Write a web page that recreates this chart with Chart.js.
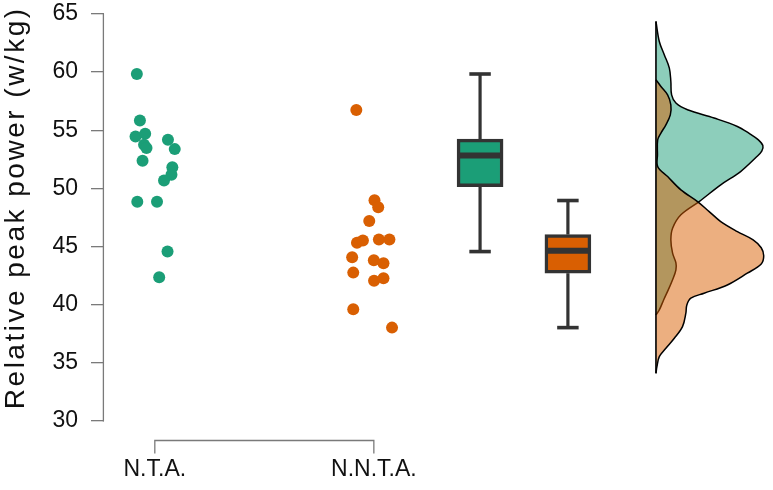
<!DOCTYPE html>
<html>
<head>
<meta charset="utf-8">
<script src="https://cdn.jsdelivr.net/npm/chart.js@4.4.1/dist/chart.umd.min.js"></script>
<style>
html,body{margin:0;padding:0;background:#ffffff;}
#wrap{width:773px;height:490px;position:relative;}
</style>
</head>
<body>
<div id="wrap"><canvas id="c" width="773" height="490"></canvas></div>
<script>
// ---------------- data ----------------
const categories = ['N.T.A.', 'N.N.T.A.'];
const yTicks = [30, 35, 40, 45, 50, 55, 60, 65];

const ntaValues  = [59.84, 55.84, 54.47, 54.70, 53.75, 53.47, 54.18, 53.38, 52.38, 51.83, 51.17, 50.68, 48.85, 48.85, 44.57, 42.37];
const ntaJitter  = [-0.082, -0.068, -0.088, -0.044, -0.049, -0.038, 0.060, 0.091, -0.056, 0.080, 0.076, 0.042, -0.080, 0.010, 0.058, 0.020];
const nntaValues = [56.74, 48.99, 48.39, 47.19, 45.32, 45.52, 45.60, 45.60, 44.09, 43.83, 43.57, 42.76, 42.07, 42.28, 39.61, 38.03];
const nntaJitter = [-0.080, 0.003, 0.020, -0.021, -0.077, -0.050, 0.023, 0.071, -0.099, 0.000, 0.044, -0.094, 0.001, 0.044, -0.094, 0.083];

// box statistics: [lower whisker, Q1, median, Q3, upper whisker]
const ntaBox  = [44.57, 50.16, 52.83, 54.24, 59.84];
const nntaBox = [38.03, 42.71, 44.65, 46.03, 48.96];

// half-violin density profiles (value, relative density)
const ntaDensityAt = [64.36, 62.64, 61.50, 60.35, 59.20, 58.05, 57.34, 56.76, 56.05, 55.33, 54.70, 54.20, 53.70, 53.20, 52.70, 51.45, 50.31, 48.87, 47.73, 46.58, 45.58, 44.43, 43.60, 43.00, 42.14, 41.28, 40.41, 39.55, 39.12];
const ntaDensity   = [0, 0.031, 0.077, 0.124, 0.138, 0.145, 0.185, 0.292, 0.539, 0.754, 0.870, 0.946, 0.990, 0.980, 0.930, 0.784, 0.600, 0.400, 0.231, 0.154, 0.138, 0.154, 0.185, 0.185, 0.154, 0.114, 0.071, 0.031, 0];
const nntaDensityAt = [59.35, 58.77, 58.05, 57.19, 56.33, 55.47, 54.76, 54.18, 52.89, 51.88, 51.02, 49.88, 48.87, 48.01, 47.15, 46.29, 45.58, 44.90, 44.20, 43.50, 42.71, 41.70, 40.99, 40.56, 39.98, 39.27, 38.12, 37.12, 36.26, 35.53, 34.67, 34.10];
const nntaDensity   = [0, 0.046, 0.108, 0.138, 0.133, 0.092, 0.046, 0.016, 0.014, 0.016, 0.108, 0.231, 0.385, 0.493, 0.600, 0.754, 0.900, 0.975, 0.998, 0.975, 0.846, 0.661, 0.446, 0.323, 0.286, 0.277, 0.246, 0.170, 0.092, 0.031, 0.009, 0];

// ---------------- layout / style ----------------
const L = {
  groupX: [1, 2], boxX: [2.485, 2.886], violinX: 3.288, violinW: 0.493,
  boxPx: 46, capHalf: 0.049, medHalf: 0.104, xMin: 0.768, xMax: 3.795
};
const GREEN = '#1b9e77', ORANGE = '#d95f02', DARK = '#333333', AXIS = '#7a7a7a';
const FONT = "'Liberation Sans', Arial, Helvetica, sans-serif";

const datasets = [];
// violin baseline (top)
datasets.push({
  type: 'line',
  data: [{x: L.violinX, y: ntaDensityAt[0]}, {x: L.violinX, y: nntaDensityAt[nntaDensityAt.length - 1]}],
  borderColor: '#000', borderWidth: 1.6, pointRadius: 0, tension: 0, fill: false
});
function densityData(at, dens) {
  return at.map((v, i) => ({x: L.violinX + dens[i] * L.violinW, y: v}));
}
datasets.push({
  type: 'line', data: densityData(nntaDensityAt, nntaDensity),
  borderColor: '#000', borderWidth: 1.5, backgroundColor: 'rgba(217,95,2,0.5)',
  fill: 'shape', pointRadius: 0, tension: 0.35
});
datasets.push({
  type: 'line', data: densityData(ntaDensityAt, ntaDensity),
  borderColor: '#000', borderWidth: 1.5, backgroundColor: 'rgba(27,158,119,0.5)',
  fill: 'shape', pointRadius: 0, tension: 0.35
});
const boxes = [ntaBox, nntaBox];
boxes.forEach((b, i) => {
  datasets.push({
    type: 'line', data: [{x: L.boxX[i] - L.medHalf, y: b[2]}, {x: L.boxX[i] + L.medHalf, y: b[2]}],
    borderColor: DARK, borderWidth: 6, pointRadius: 0, tension: 0, fill: false
  });
});
datasets.push({
  type: 'bar',
  data: boxes.map((b, i) => ({x: L.boxX[i], y: [b[1], b[3]]})),
  backgroundColor: [GREEN, ORANGE], borderColor: DARK, borderWidth: 3.5,
  borderSkipped: false, barThickness: L.boxPx, grouped: false
});
boxes.forEach((b, i) => {
  const cx = L.boxX[i];
  datasets.push({type: 'line', data: [{x: cx - L.capHalf, y: b[4]}, {x: cx + L.capHalf, y: b[4]}], borderColor: DARK, borderWidth: 3.6, pointRadius: 0, fill: false});
  datasets.push({type: 'line', data: [{x: cx - L.capHalf, y: b[0]}, {x: cx + L.capHalf, y: b[0]}], borderColor: DARK, borderWidth: 3.6, pointRadius: 0, fill: false});
  datasets.push({type: 'line', data: [{x: cx, y: b[3]}, {x: cx, y: b[4]}], borderColor: DARK, borderWidth: 3.2, pointRadius: 0, fill: false});
  datasets.push({type: 'line', data: [{x: cx, y: b[0]}, {x: cx, y: b[1]}], borderColor: DARK, borderWidth: 3.2, pointRadius: 0, fill: false});
});
datasets.push({
  type: 'scatter', data: ntaValues.map((v, i) => ({x: L.groupX[0] + ntaJitter[i], y: v})),
  backgroundColor: GREEN, pointRadius: 6, borderWidth: 0, pointHoverRadius: 6
});
datasets.push({
  type: 'scatter', data: nntaValues.map((v, i) => ({x: L.groupX[1] + nntaJitter[i], y: v})),
  backgroundColor: ORANGE, pointRadius: 6, borderWidth: 0, pointHoverRadius: 6
});

const layoutPlugin = {
  id: 'layoutTweaks',
  afterLayout(chart) {
    // nudge the y title centre upward (only the title uses scale.top)
    chart.scales.y.top -= 19.4;
  },
  beforeDraw(chart) { chart.ctx.letterSpacing = '2.5px'; },
  beforeDatasetsDraw(chart) { chart.ctx.letterSpacing = '0px'; },
  afterDraw(chart) {
    const ctx = chart.ctx;
    ctx.letterSpacing = '0px';
    const xs = chart.scales.x, ys = chart.scales.y;
    ctx.save();
    ctx.strokeStyle = AXIS;
    ctx.lineWidth = 1.3;
    // y axis line from first to last tick
    const ax = chart.chartArea.left - 0.6;
    ctx.beginPath();
    ctx.moveTo(ax, ys.getPixelForValue(yTicks[0]) + 0.6);
    ctx.lineTo(ax, ys.getPixelForValue(yTicks[yTicks.length - 1]) - 0.6);
    ctx.stroke();
    // x axis bracket between the two groups
    const y0 = chart.chartArea.bottom + 19.5;
    const xa = xs.getPixelForValue(L.groupX[0]);
    const xb = xs.getPixelForValue(L.groupX[1]);
    ctx.beginPath();
    ctx.moveTo(xa, y0 + 13);
    ctx.lineTo(xa, y0);
    ctx.lineTo(xb, y0);
    ctx.lineTo(xb, y0 + 13);
    ctx.stroke();
    ctx.restore();
  }
};

new Chart(document.getElementById('c'), {
  type: 'line',
  data: {datasets},
  plugins: [layoutPlugin],
  options: {
    responsive: false, animation: false, events: [],
    layout: {padding: {top: 14, bottom: 0, left: 0, right: 3}},
    plugins: {legend: {display: false}, tooltip: {enabled: false}},
    scales: {
      x: {
        type: 'linear', min: L.xMin, max: L.xMax, offset: false,
        afterFit(s) { s.height = 69; s.paddingLeft = 0; s.paddingRight = 0; },
        afterBuildTicks(s) { s.ticks = L.groupX.map(v => ({value: v})); },
        grid: {display: false, drawTicks: false},
        border: {display: false},
        ticks: {
          z: 1, padding: 35, autoSkip: false, maxRotation: 0, color: '#111',
          font: {family: FONT, size: 23},
          callback: (v) => { const k = L.groupX.indexOf(v); return k >= 0 ? categories[k] : ''; }
        }
      },
      y: {
        type: 'linear', min: yTicks[0], max: yTicks[yTicks.length - 1],
        afterFit(s) { s.width = 104; s.paddingTop = 0; s.paddingBottom = 0; },
        afterBuildTicks(s) { s.ticks = yTicks.map(v => ({value: v})); },
        grid: {display: true, drawOnChartArea: false, drawTicks: true, tickLength: 13, color: AXIS, lineWidth: 1.3},
        border: {display: false},
        ticks: {z: 1, padding: 13, color: '#111', font: {family: FONT, size: 23}},
        title: {
          display: true, text: 'Relative peak power (w/kg)', color: '#111',
          padding: 0, font: {family: FONT, size: 28, lineHeight: 1.15}
        }
      }
    }
  }
});
</script>
</body>
</html>
